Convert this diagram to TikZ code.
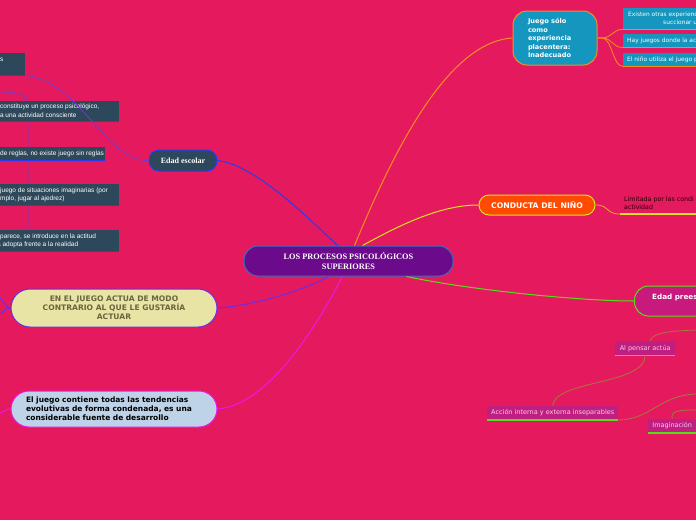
\documentclass[tikz,border=0pt]{standalone}
\usepackage{fontspec}
\setmainfont{Liberation Serif}
\newfontfamily\dvs{DejaVu Sans}
\newfontfamily\lsans{Liberation Sans}
\definecolor{bgc}{RGB}{229,26,94}
\definecolor{cfill}{RGB}{108,10,140}
\definecolor{cborder}{RGB}{60,110,190}
\definecolor{dark}{RGB}{45,72,90}
\definecolor{bluel}{RGB}{40,60,235}
\definecolor{teal}{RGB}{20,150,190}
\definecolor{orangel}{RGB}{245,145,25}
\definecolor{cfill2}{RGB}{255,75,0}
\definecolor{yell}{RGB}{215,228,30}
\definecolor{pfill}{RGB}{200,25,125}
\definecolor{greenl}{RGB}{85,225,25}
\definecolor{lfill}{RGB}{192,30,128}
\definecolor{ltext}{RGB}{248,205,232}
\definecolor{yfill}{RGB}{232,228,166}
\definecolor{ytext}{RGB}{105,100,60}
\definecolor{purpl}{RGB}{105,45,230}
\definecolor{bfill}{RGB}{190,210,232}
\definecolor{magl}{RGB}{232,25,232}
\definecolor{olivel}{RGB}{165,120,60}
\definecolor{violl}{RGB}{110,60,200}
\begin{document}
\begin{tikzpicture}[x=1pt,y=-1pt,
  conn/.style={line width=1pt},
  darkbox/.style={fill=dark, draw=none, inner sep=0pt},
  darktext/.style={text=white, font=\lsans\fontsize{6.5}{8.5}\selectfont, align=left, inner sep=0pt, anchor=west},
  tealbox/.style={fill=teal, draw=none, inner sep=0pt, anchor=north west, minimum width=100pt},
  tealtext/.style={text=white, font=\dvs\fontsize{5.9}{8}\selectfont, inner sep=0pt, anchor=west},
  lbox/.style={fill=lfill, draw=none, inner sep=0pt, anchor=north west, minimum height=14pt, text=ltext, font=\dvs\fontsize{6.5}{7}\selectfont},
  uline/.style={line width=1.6pt}
]
\useasboundingbox (0,0) rectangle (696,520);
\fill[bgc] (0,0) rectangle (696,520);
\begin{scope}
\clip (0,0) rectangle (696,520);

% ---------- nodes ----------
\node[fill=cfill, draw=cborder, line width=1pt, rounded corners=14pt, minimum width=209pt, minimum height=30pt, inner sep=0pt,
  text=white, font=\bfseries\fontsize{8.3}{10}\selectfont, align=center] (c) at (348.5,261) {LOS PROCESOS PSICOLÓGICOS\\SUPERIORES};

\node[fill=dark, draw=bluel, line width=1pt, rounded corners=10pt, minimum width=68pt, minimum height=21pt, inner sep=0pt,
  text=white, font=\bfseries\fontsize{8}{9}\selectfont] (e) at (183,160.5) {Edad escolar};

\node[fill=teal, draw=orangel, line width=1pt, rounded corners=14pt, minimum width=84pt, minimum height=54pt, inner sep=0pt,
  text=white, font=\dvs\bfseries\fontsize{6.6}{8.5}\selectfont, align=left, text width=54pt] (j) at (555,38) {Juego sólo\\como\\experiencia\\placentera:\\Inadecuado};

\node[fill=cfill2, draw=yell, line width=1pt, rounded corners=10pt, minimum width=116pt, minimum height=20pt, inner sep=0pt,
  text=white, font=\dvs\bfseries\fontsize{7.7}{9}\selectfont] (k) at (537,205) {CONDUCTA DEL NIÑO};

\node[fill=pfill, draw=greenl, line width=1pt, rounded corners=14pt, minimum width=130pt, minimum height=30pt, inner sep=0pt, anchor=west] (p) at (634,301) {};
\node[text=white, font=\dvs\bfseries\fontsize{7.2}{9}\selectfont, inner sep=0pt, anchor=west] (pt) at (652,297.5) {Edad prees};

\node[fill=yfill, draw=purpl, line width=1pt, rounded corners=19pt, minimum width=206pt, minimum height=38pt, inner sep=0pt,
  text=ytext, font=\dvs\bfseries\fontsize{7.6}{9}\selectfont, align=center] (y) at (114,308) {EN EL JUEGO ACTUA DE MODO\\CONTRARIO AL QUE LE GUSTARÍA\\ACTUAR};

\node[fill=bfill, draw=magl, line width=1pt, rounded corners=18pt, minimum width=206pt, minimum height=36pt, inner sep=0pt,
  text=black, font=\dvs\bfseries\fontsize{7.5}{9}\selectfont, align=left, text width=176pt] (b) at (114,409) {El juego contiene todas las tendencias\\evolutivas de forma condenada, es una\\considerable fuente de desarrollo};

% ---------- connectors from the centre ----------
\draw[conn, draw=bluel] ([xshift=-11pt]c.north) .. controls (305,215) and (255,165) .. (e.east);
\draw[conn, draw=orangel] ([xshift=6pt]c.north) .. controls (390,160) and (445,42) .. (j.west);
\draw[conn, draw=yell] ([xshift=14pt]c.north) .. controls (400,225) and (440,205) .. (k.west);
\draw[conn, draw=greenl] ([xshift=58pt]c.south) .. controls (470,290) and (580,301) .. (p.west);
\draw[conn, draw=purpl] ([xshift=-20pt]c.south) .. controls (300,292) and (250,306) .. (y.east);
\draw[conn, draw=magl] ([xshift=-6pt]c.south) .. controls (320,320) and (270,405) .. (b.east);

% left edges of the two left nodes
\coordinate (yl1) at (0,298);
\coordinate (yl2) at (0,314);
\coordinate (bl1) at (0,413);
\draw[conn, draw=purpl] (y.west) .. controls (5,308) and (3,299) .. (yl1);
\draw[conn, draw=purpl] (y.west) .. controls (5,308) and (3,313) .. (yl2);
\draw[conn, draw=magl] (b.west) .. controls (5,409) and (3,413) .. (bl1);

% ---------- Edad escolar branch (left) ----------
\coordinate (sp0) at (0,92);
\coordinate (sp1) at (28,230);
\draw[conn, draw=violl, line width=0.8pt] (sp0) .. controls (20,92) and (28,95) .. (28,105) -- (sp1);

\node[darkbox, anchor=north east, minimum width=60pt, minimum height=22pt] (d1) at (25,53) {};
\node[darkbox, anchor=north east, minimum width=160pt, minimum height=20pt] (d2) at (119,101) {};
\node[darkbox, anchor=north east, minimum width=150pt, minimum height=13pt] (d3) at (105,147) {};
\node[darkbox, anchor=north east, minimum width=160pt, minimum height=21pt] (d4) at (119,184) {};
\node[darkbox, anchor=north east, minimum width=160pt, minimum height=21pt] (d5) at (119,230) {};
\foreach \n in {d1,d2,d3,d4,d5} {\draw[uline, draw=bluel] (\n.south west) -- (\n.south east);}

\node[darktext] (t1) at (0,60) {s};
\node[darktext] (t2) at (0,107) {constituye un proceso psicológico,};
\node[darktext] (t2b) at (-2,115.5) {ta una actividad consciente};
\node[darktext] (t3) at (0,153.5) {de reglas, no existe juego sin reglas};
\node[darktext] (t4) at (0,190.5) {juego de situaciones imaginarias (por};
\node[darktext] (t4b) at (0,199) {mplo, jugar al ajedrez)};
\node[darktext] (t5a) at (0,236.5) {parece, se introduce en la actitud};
\node[darktext] (t5) at (-3,245) {a adopta frente a la realidad};
\draw[conn, draw=violl, line width=0.8pt] (e.west) .. controls (105,162) and (80,80) .. (d1.south east);

% ---------- Juego sólo branch ----------
\node[tealbox, minimum height=21pt] (j1) at (623,8) {};
\node[tealbox, minimum height=13pt] (j2) at (623,34) {};
\node[tealbox, minimum height=13pt] (j3) at (623,53) {};
\foreach \n in {j1,j2,j3} {\draw[uline, draw=orangel] (\n.south west) -- (\n.south east);}
\node[tealtext] (jt1) at (628,15) {Existen otras experiencias};
\node[tealtext] (jt1b) at (663,22.5) {succionar u};
\node[tealtext] (jt2) at (627,41) {Hay juegos donde la ac};
\node[tealtext] (jt3) at (627,60) {El niño utiliza el juego p};
\draw[conn, draw=orangel, line width=0.8pt] (j.east) -- (602,38) .. controls (612,38) and (613,29) .. (j1.south west);
\draw[conn, draw=orangel, line width=0.8pt] (j.east) -- (602,38) .. controls (612,38) and (613,48) .. (j2.south west);
\draw[conn, draw=orangel, line width=0.8pt] (j.east) -- (602,38) .. controls (612,38) and (613,67) .. (j3.south west);

% ---------- Conducta branch ----------
\coordinate (kl) at (620,214);
\coordinate (kr) at (696,214);
\node[text=black!85!red, font=\dvs\fontsize{6.3}{8}\selectfont, align=left, inner sep=0pt, anchor=west] (kt) at (624,203) {Limitada por las condi\\actividad};
\draw[conn, draw=orangel!70!yell, line width=0.8pt] (k.east) .. controls (610,205) and (605,214) .. (kl);
\draw[uline, draw=yell] (kl) -- (kr);

% ---------- Edad preescolar branch ----------
\node[lbox, minimum width=60pt] (al) at (615,341) {Al pensar actúa};
\node[lbox, minimum width=131pt] (ac) at (487,405.5) {Acción interna y externa inseparables};
\node[lbox, minimum width=56pt, anchor=north west] (im) at (648,418.5) {\hspace*{-8pt}Imaginación};
\foreach \n in {al,ac,im} {\draw[uline, draw=greenl] (\n.south west) -- (\n.south east);}
\coordinate (r1) at (696,330);
\coordinate (r2) at (696,394);
\coordinate (r3) at (696,410);
\draw[conn, draw=olivel, line width=0.8pt] ([xshift=5pt]al.north) .. controls (652,333) and (668,331) .. (r1);
\draw[conn, draw=olivel, line width=0.8pt] ([xshift=0pt]al.south) .. controls (645,385) and (555,380) .. (ac.north);
\draw[conn, draw=olivel, line width=0.8pt] (ac.south east) .. controls (650,420) and (660,395) .. (r2);
\draw[conn, draw=olivel, line width=0.8pt] ([xshift=-4pt]im.north) .. controls (670,410) and (682,410) .. (r3);
\end{scope}
\end{tikzpicture}
\end{document}
